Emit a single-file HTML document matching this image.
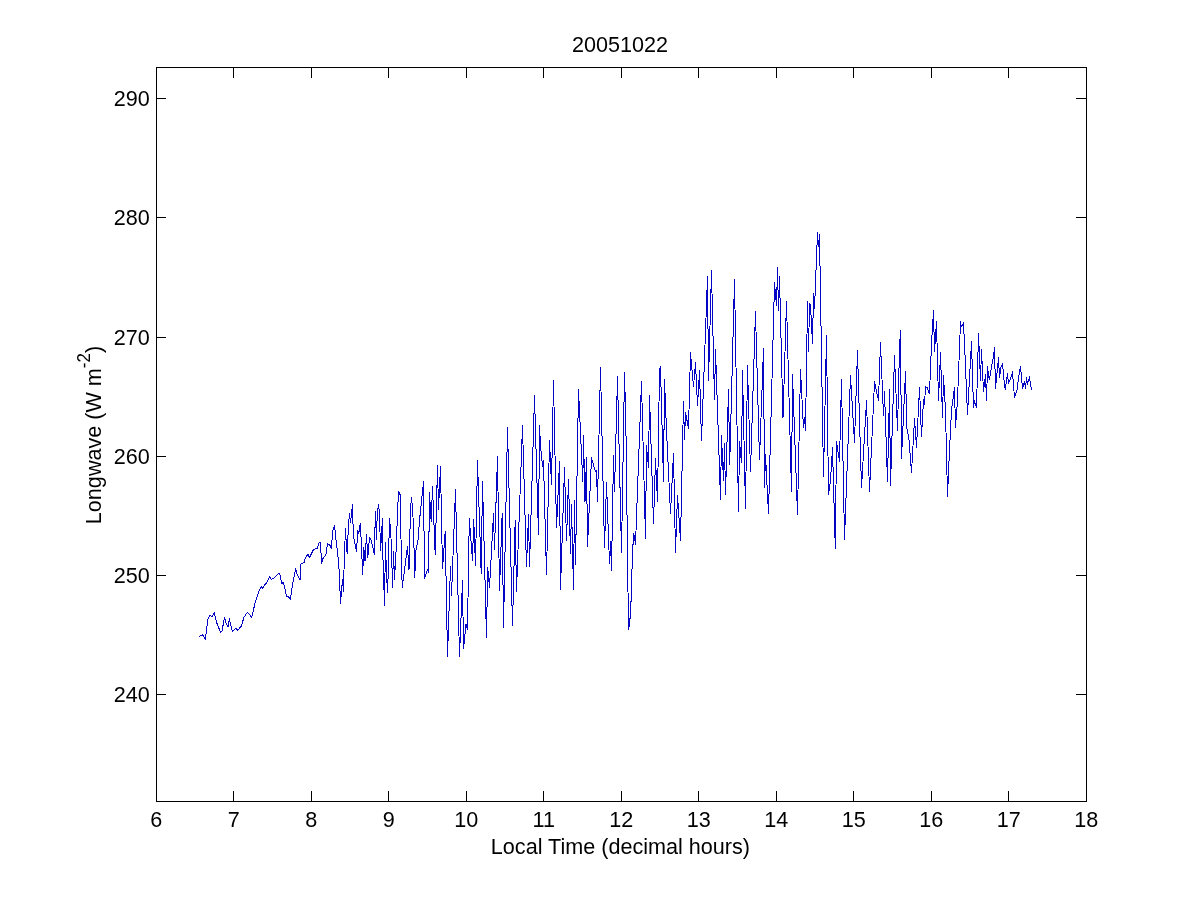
<!DOCTYPE html>
<html><head><meta charset="utf-8"><title>20051022</title>
<style>html,body{margin:0;padding:0;background:#fff;}body{width:1200px;height:900px;overflow:hidden}</style></head>
<body>
<svg width="1200" height="900" viewBox="0 0 1200 900" style="display:block">
<rect width="1200" height="900" fill="#fff"/>
<polyline points="199.3,636.3 202.7,634.9 205.3,639.3 208.0,618.7 210.0,614.9 212.0,617.1 214.3,612.7 216.7,622.7 218.3,626.7 220.4,632.3 222.0,631.3 224.4,617.6 226.0,622.7 228.0,627.3 229.3,618.7 232.4,631.3 236.0,628.3 237.7,630.4 241.3,626.0 244.0,617.3 247.3,612.4 249.3,614.0 251.6,618.0 255.3,602.0 258.7,592.0 261.3,586.0 262.7,589.0 264.7,584.7 266.7,582.7 269.6,577.0 271.3,579.3 273.3,578.7 277.3,574.4 279.6,573.3 282.0,584.0 283.3,582.0 286.7,596.7 288.0,596.0 290.3,599.3 292.7,584.0 295.7,568.7 297.3,574.7 300.0,580.0 301.0,564.0 304.0,562.5 305.5,557.5 308.0,554.5 309.5,557.5 313.5,549.5 317.5,548.0 319.0,543.0 320.5,542.5 321.5,563.5 323.0,558.5 326.0,554.5 327.5,543.5 330.0,545.5 331.5,548.5 332.5,532.0 334.5,525.5 336.5,544.0 338.0,557.0 339.2,571.0 340.5,603.5 342.5,579.5 343.5,591.5 344.0,570.0 344.5,553.0 345.5,529.0 346.5,547.0 347.2,553.5 348.5,524.5 349.5,514.0 350.5,523.0 351.2,516.0 352.5,505.0 353.0,524.0 354.0,539.0 356.5,551.5 357.8,530.5 358.8,534.0 360.3,523.5 361.2,540.0 362.7,574.5 363.7,547.0 365.0,561.0 366.5,534.5 367.8,557.5 369.5,537.5 371.0,540.0 374.5,554.5 375.3,511.0 376.5,540.0 377.2,514.0 378.5,504.5 379.5,513.0 380.5,550.5 381.5,535.0 382.5,518.5 383.0,560.0 384.5,605.5 385.5,542.5 386.5,576.0 387.7,592.5 389.5,518.5 390.5,529.0 391.5,547.0 392.5,587.5 393.5,551.5 394.5,579.5 396.5,543.0 397.5,510.0 398.7,491.5 400.2,495.0 401.0,539.0 402.2,587.5 404.0,574.0 407.5,546.5 409.0,570.0 410.5,509.0 411.5,497.5 412.5,508.0 413.5,526.5 414.7,577.5 416.0,550.0 418.0,540.0 419.5,520.5 423.5,482.0 424.5,578.5 427.5,569.5 428.5,573.0 429.5,493.0 431.2,522.0 432.5,487.0 435.2,554.5 437.5,466.0 438.5,509.5 440.5,467.0 442.5,569.0 445.2,531.5 447.5,656.5 450.5,567.0 451.5,595.5 455.5,490.0 459.5,656.5 462.5,581.0 463.5,649.0 466.0,624.0 467.5,629.5 469.3,518.5 472.5,560.5 473.7,519.5 475.5,565.5 477.5,461.0 481.2,573.5 482.5,482.0 486.5,637.5 487.7,567.0 489.5,587.5 493.5,514.0 494.5,549.5 497.5,457.0 499.5,590.5 502.2,513.5 503.5,627.5 507.5,428.0 512.5,625.5 515.2,520.5 516.5,591.5 522.5,426.0 526.5,566.5 528.5,515.0 529.5,566.5 534.5,396.0 538.5,534.5 539.5,426.0 540.5,445.0 542.5,466.5 543.5,461.0 546.5,574.5 549.5,441.0 551.5,484.5 553.5,381.0 556.5,528.0 559.5,462.0 560.5,589.5 564.5,468.0 566.5,541.0 568.5,480.0 570.5,553.5 571.5,505.0 573.5,589.5 574.5,501.0 575.5,564.5 578.5,390.0 582.8,482.0 583.5,436.0 585.0,502.0 586.5,458.0 587.5,546.5 591.5,458.0 595.5,472.0 596.5,471.0 597.5,502.0 600.5,368.0 604.5,547.5 606.5,483.0 609.5,563.5 610.5,542.0 611.5,570.5 613.5,456.0 614.5,491.5 617.5,377.0 621.5,552.5 624.5,373.0 625.8,419.0 627.2,530.0 628.5,630.0 629.8,622.0 631.1,600.0 632.4,555.0 633.7,533.0 635.5,544.5 641.5,382.0 645.5,538.5 646.5,446.0 648.5,467.5 649.5,396.0 653.5,523.5 655.5,459.0 657.5,501.5 659.5,370.0 660.5,367.0 663.5,481.5 664.5,379.5 666.5,430.0 670.5,513.5 673.5,453.5 675.5,552.5 677.5,495.5 680.5,540.5 683.5,402.0 684.5,440.0 685.5,412.5 688.5,428.5 690.5,353.0 693.5,386.5 695.5,363.0 697.5,405.5 699.5,371.0 701.5,440.5 707.5,277.0 708.5,380.5 711.5,271.0 714.5,399.5 715.5,350.0 720.5,499.5 721.5,436.0 723.5,480.5 724.5,444.0 725.5,494.5 728.5,390.0 729.7,464.5 734.5,280.0 738.5,511.5 739.5,442.0 741.5,462.5 742.5,371.0 745.5,508.5 747.5,366.0 750.5,471.5 755.5,312.0 759.5,459.5 763.5,349.0 764.5,487.5 765.5,455.0 768.5,513.5 774.5,283.0 776.5,305.5 777.5,268.0 778.5,310.5 779.5,277.0 783.0,417.5 786.5,302.0 791.5,491.5 792.5,375.0 797.5,514.5 800.5,370.0 803.5,428.0 804.5,418.0 805.5,430.5 807.5,302.0 808.5,351.5 809.5,304.0 810.5,305.0 812.5,343.5 813.5,294.0 814.5,309.0 817.5,233.0 818.5,246.5 819.5,235.0 823.5,476.5 826.5,336.0 828.5,494.5 830.5,481.0 832.5,448.0 835.3,548.5 836.5,442.0 839.5,461.5 841.5,380.0 844.5,539.5 850.5,376.0 854.5,442.5 857.5,351.0 861.5,487.5 866.5,401.0 869.5,491.5 874.5,382.0 878.5,400.5 880.5,343.0 883.5,415.5 884.5,392.0 887.5,481.5 889.5,390.0 890.5,485.5 894.5,356.0 897.5,430.5 899.5,348.0 900.5,331.0 901.5,458.5 905.5,372.0 906.8,427.5 909.0,440.0 911.5,472.5 914.5,419.0 916.5,447.5 919.5,388.0 921.5,436.5 923.5,400.0 924.5,404.5 925.5,387.0 927.5,388.0 929.3,393.5 930.0,381.0 931.5,344.0 933.5,311.0 934.5,351.5 936.5,322.0 938.5,400.5 940.5,353.0 942.5,417.5 943.5,376.0 945.5,410.0 947.5,496.5 949.5,450.0 951.5,410.0 954.5,388.0 955.5,427.5 957.5,400.0 960.5,322.0 961.5,327.0 963.5,323.0 965.0,355.0 967.5,414.5 971.5,342.0 973.5,407.5 974.5,401.0 976.5,407.5 978.5,334.0 980.5,380.5 981.5,350.0 983.5,391.5 985.5,375.0 986.5,400.5 987.5,367.0 989.3,379.7 991.5,367.0 993.5,356.0 994.5,348.0 995.5,388.5 998.5,358.0 999.5,377.5 1001.0,367.0 1002.5,364.0 1004.0,380.0 1005.2,389.7 1007.5,374.0 1008.5,383.5 1010.5,379.0 1012.5,372.0 1014.5,397.7 1017.0,390.0 1019.0,375.0 1020.5,366.3 1022.5,388.7 1024.5,381.3 1025.5,388.7 1026.5,378.0 1027.5,384.3 1029.5,377.0 1030.5,385.0 1031.5,389.7" fill="none" stroke="#0404c4" stroke-width="1" stroke-linejoin="round" shape-rendering="crispEdges"/>
<g stroke="#000" stroke-width="1" fill="none" shape-rendering="crispEdges">
<rect x="156.5" y="67.5" width="930" height="734"/>
<line x1="233.5" y1="801" x2="233.5" y2="791"/>
<line x1="233.5" y1="67" x2="233.5" y2="78"/>
<line x1="311.5" y1="801" x2="311.5" y2="791"/>
<line x1="311.5" y1="67" x2="311.5" y2="78"/>
<line x1="388.5" y1="801" x2="388.5" y2="791"/>
<line x1="388.5" y1="67" x2="388.5" y2="78"/>
<line x1="466.5" y1="801" x2="466.5" y2="791"/>
<line x1="466.5" y1="67" x2="466.5" y2="78"/>
<line x1="543.5" y1="801" x2="543.5" y2="791"/>
<line x1="543.5" y1="67" x2="543.5" y2="78"/>
<line x1="621.5" y1="801" x2="621.5" y2="791"/>
<line x1="621.5" y1="67" x2="621.5" y2="78"/>
<line x1="698.5" y1="801" x2="698.5" y2="791"/>
<line x1="698.5" y1="67" x2="698.5" y2="78"/>
<line x1="776.5" y1="801" x2="776.5" y2="791"/>
<line x1="776.5" y1="67" x2="776.5" y2="78"/>
<line x1="853.5" y1="801" x2="853.5" y2="791"/>
<line x1="853.5" y1="67" x2="853.5" y2="78"/>
<line x1="931.5" y1="801" x2="931.5" y2="791"/>
<line x1="931.5" y1="67" x2="931.5" y2="78"/>
<line x1="1008.5" y1="801" x2="1008.5" y2="791"/>
<line x1="1008.5" y1="67" x2="1008.5" y2="78"/>
<line x1="156" y1="694.5" x2="166" y2="694.5"/>
<line x1="1086" y1="694.5" x2="1076" y2="694.5"/>
<line x1="156" y1="575.5" x2="166" y2="575.5"/>
<line x1="1086" y1="575.5" x2="1076" y2="575.5"/>
<line x1="156" y1="456.5" x2="166" y2="456.5"/>
<line x1="1086" y1="456.5" x2="1076" y2="456.5"/>
<line x1="156" y1="337.5" x2="166" y2="337.5"/>
<line x1="1086" y1="337.5" x2="1076" y2="337.5"/>
<line x1="156" y1="217.5" x2="166" y2="217.5"/>
<line x1="1086" y1="217.5" x2="1076" y2="217.5"/>
<line x1="156" y1="98.5" x2="166" y2="98.5"/>
<line x1="1086" y1="98.5" x2="1076" y2="98.5"/>
</g>
<g font-family="'Liberation Sans', Arial, sans-serif" font-size="21.6" fill="#000">
<text transform="translate(156.30,826.80) scale(1,1.035)" text-anchor="middle">6</text>
<text transform="translate(233.80,826.80) scale(1,1.035)" text-anchor="middle">7</text>
<text transform="translate(311.30,826.80) scale(1,1.035)" text-anchor="middle">8</text>
<text transform="translate(388.80,826.80) scale(1,1.035)" text-anchor="middle">9</text>
<text transform="translate(466.30,826.80) scale(1,1.035)" text-anchor="middle">10</text>
<text transform="translate(543.80,826.80) scale(1,1.035)" text-anchor="middle">11</text>
<text transform="translate(621.30,826.80) scale(1,1.035)" text-anchor="middle">12</text>
<text transform="translate(698.80,826.80) scale(1,1.035)" text-anchor="middle">13</text>
<text transform="translate(776.30,826.80) scale(1,1.035)" text-anchor="middle">14</text>
<text transform="translate(853.80,826.80) scale(1,1.035)" text-anchor="middle">15</text>
<text transform="translate(931.30,826.80) scale(1,1.035)" text-anchor="middle">16</text>
<text transform="translate(1008.80,826.80) scale(1,1.035)" text-anchor="middle">17</text>
<text transform="translate(1086.30,826.80) scale(1,1.035)" text-anchor="middle">18</text>
<text transform="translate(149.80,702.00) scale(1,1.035)" text-anchor="end">240</text>
<text transform="translate(149.80,583.00) scale(1,1.035)" text-anchor="end">250</text>
<text transform="translate(149.80,464.00) scale(1,1.035)" text-anchor="end">260</text>
<text transform="translate(149.80,345.00) scale(1,1.035)" text-anchor="end">270</text>
<text transform="translate(149.80,225.00) scale(1,1.035)" text-anchor="end">280</text>
<text transform="translate(149.80,106.00) scale(1,1.035)" text-anchor="end">290</text>
<text transform="translate(620.00,52.00) scale(1,1.035)" text-anchor="middle">20051022</text>
<text transform="translate(620.40,853.70) scale(1,1.035)" text-anchor="middle">Local Time (decimal hours)</text>
<text transform="translate(101,435) rotate(-90) scale(1,1.035)" text-anchor="middle">Longwave (W m<tspan dy="-10.6" font-size="17">-2</tspan><tspan dy="10.6">)</tspan></text>
</g>
</svg>
</body></html>
